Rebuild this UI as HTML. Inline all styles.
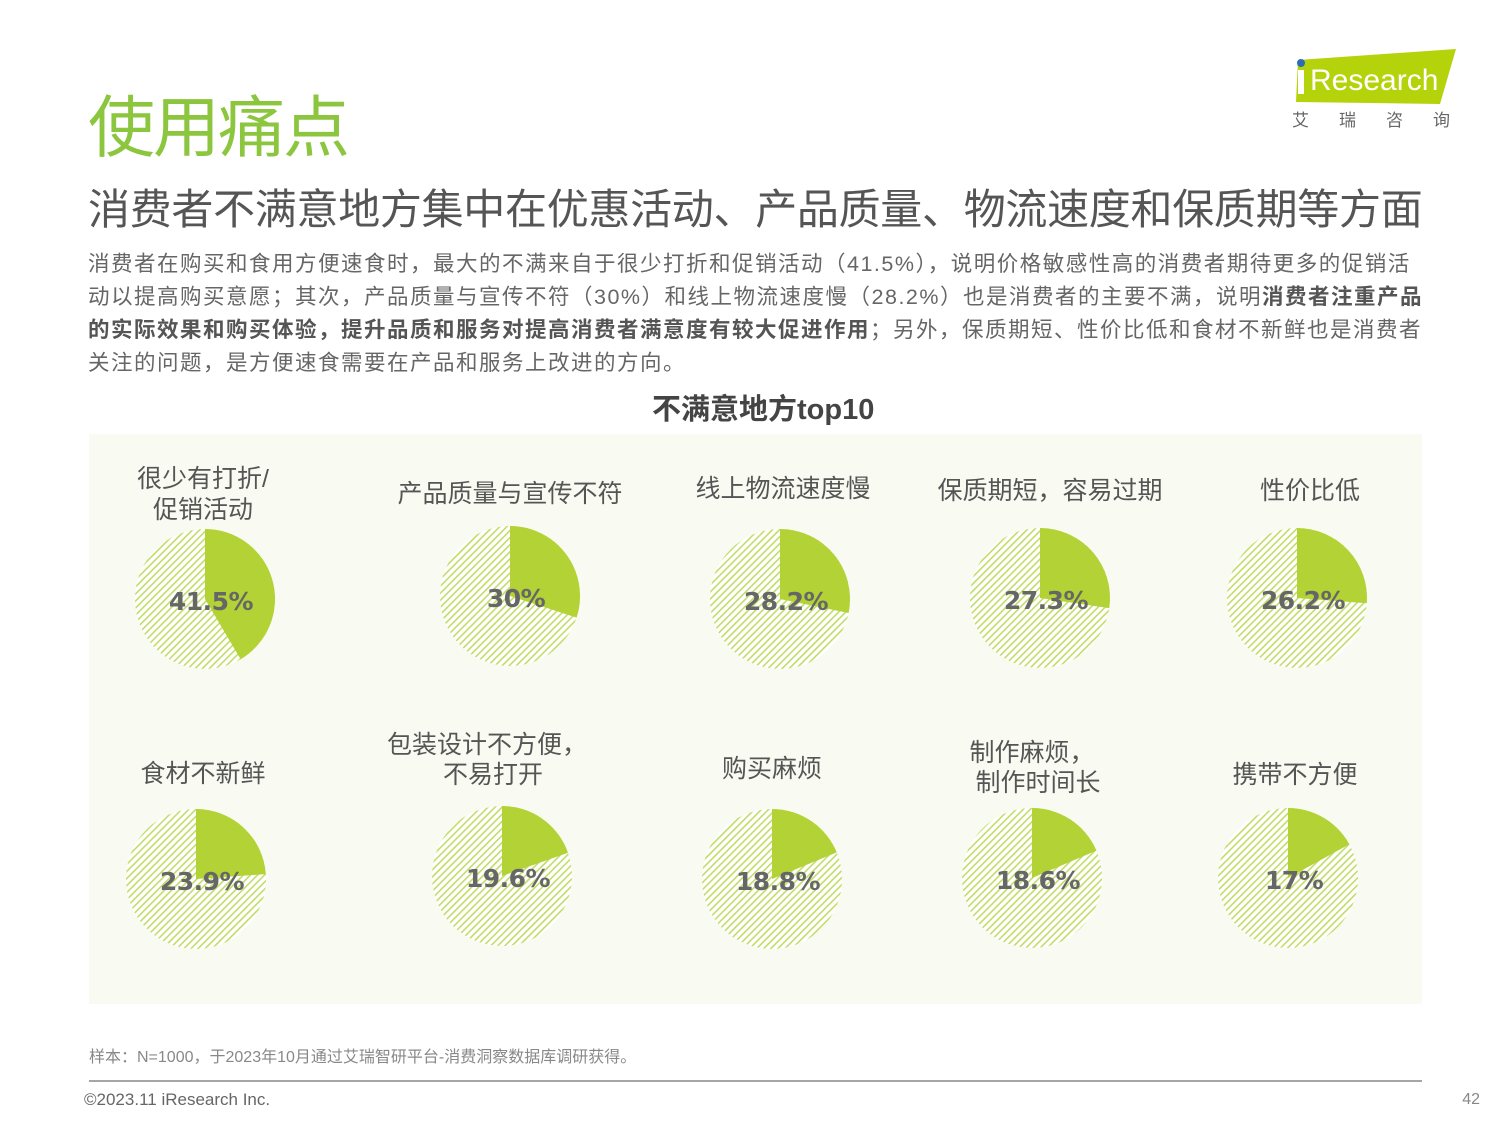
<!DOCTYPE html>
<html><head><meta charset="utf-8"><style>
body{margin:0;background:#fff;width:1500px;height:1125px;overflow:hidden;font-family:"Liberation Sans","Noto Sans CJK SC",sans-serif;position:relative}
.a{position:absolute;white-space:nowrap}
</style></head><body>
<div class="a" style="left:88px;top:74px;font-size:67px;color:#8cc63f;letter-spacing:-2px">使用痛点</div>
<div class="a" style="left:88px;top:176px;font-size:42px;color:#555;letter-spacing:-0.3px">消费者不满意地方集中在优惠活动、产品质量、物流速度和保质期等方面</div>
<div class="a" style="left:88px;top:248px;font-size:21.5px;color:#666;line-height:33px;white-space:normal;width:1342px;letter-spacing:1.5px">消费者在购买和食用方便速食时，最大的不满来自于很少打折和促销活动（41.5%），说明价格敏感性高的消费者期待更多的促销活动以提高购买意愿；其次，产品质量与宣传不符（30%）和线上物流速度慢（28.2%）也是消费者的主要不满，说明<b style="color:#555">消费者注重产品的实际效果和购买体验，提升品质和服务对提高消费者满意度有较大促进作用</b>；另外，保质期短、性价比低和食材不新鲜也是消费者关注的问题，是方便速食需要在产品和服务上改进的方向。</div>
<div class="a" style="left:652px;top:386px;font-size:29px;font-weight:bold;color:#444">不满意地方top10</div>
<svg class="a" style="left:1288px;top:46px" width="172" height="90">
<polygon points="10,14 168,3 152,58 8,56" fill="#b5d30a"/>
<circle cx="13" cy="17" r="4" fill="#2e6db4"/>
<rect x="10" y="24" width="6" height="24" fill="#fff"/>
<text x="22" y="44" font-size="30" fill="#fff" font-family="Liberation Sans">Research</text>
<text x="4" y="80" font-size="17" fill="#666" letter-spacing="30" font-family="Noto Sans CJK SC">艾瑞咨询</text>
</svg>
<svg class="a" style="left:0;top:0" width="1500" height="1125">
<defs><pattern id="h" width="5" height="5" patternUnits="userSpaceOnUse" patternTransform="rotate(45)"><rect width="5" height="5" fill="#fff"/><rect width="1.6" height="5" fill="#c2dc6a"/></pattern></defs>
<rect x="89" y="434" width="1333" height="570" fill="#f9fbf2"/>
<g font-family="Liberation Sans,Noto Sans CJK SC,sans-serif" font-size="25" fill="#555" text-anchor="middle">
<text x="203" y="487">很少有打折/</text><text x="203" y="518">促销活动</text>
<text x="510" y="502">产品质量与宣传不符</text>
<text x="783" y="497">线上物流速度慢</text>
<text x="1050" y="499">保质期短，容易过期</text>
<text x="1310" y="499">性价比低</text>
<text x="203" y="782">食材不新鲜</text>
<text x="487" y="753">包装设计不方便，</text><text x="493" y="783">不易打开</text>
<text x="772" y="777">购买麻烦</text>
<text x="1032" y="761">制作麻烦，</text><text x="1038" y="791">制作时间长</text>
<text x="1295" y="783">携带不方便</text>
</g>
<g id="pies"></g>
<line x1="89" y1="1081" x2="1422" y2="1081" stroke="#888" stroke-width="1.5"/>
<text x="89" y="1062" font-size="16" fill="#888" font-family="Liberation Sans,Noto Sans CJK SC,sans-serif">样本：N=1000，于2023年10月通过艾瑞智研平台-消费洞察数据库调研获得。</text>
<text x="84" y="1105" font-size="17" fill="#666" font-family="Liberation Sans">©2023.11 iResearch Inc.</text>
<text x="1480" y="1104" font-size="16" fill="#888" text-anchor="end" font-family="Liberation Sans">42</text>
</svg>
<script>
var d=[[205,599,41.5,"41.5%"],[510,596,30,"30%"],[780,599,28.2,"28.2%"],[1040,598,27.3,"27.3%"],[1297,598,26.2,"26.2%"],[196,879,23.9,"23.9%"],[502,876,19.6,"19.6%"],[772,879,18.8,"18.8%"],[1032,878,18.6,"18.6%"],[1288,878,17,"17%"]];
var s="",r=70;
d.forEach(function(p){var x=p[0],y=p[1],a=p[2]/100*2*Math.PI,ex=x+r*Math.sin(a),ey=y-r*Math.cos(a);
s+='<circle cx="'+x+'" cy="'+y+'" r="'+r+'" fill="url(#h)"/>';
s+='<path d="M'+x+','+y+' L'+x+','+(y-r)+' A'+r+','+r+' 0 '+(p[2]>50?1:0)+' 1 '+ex+','+ey+' Z" fill="#b2d235"/>';
s+='<text x="'+(x+6)+'" y="'+(y+11)+'" font-size="25" font-weight="bold" fill="#666" text-anchor="middle" font-family="DejaVu Sans,sans-serif" letter-spacing="-0.5">'+p[3]+'</text>';});
document.getElementById("pies").innerHTML=s;
</script>
</body></html>
